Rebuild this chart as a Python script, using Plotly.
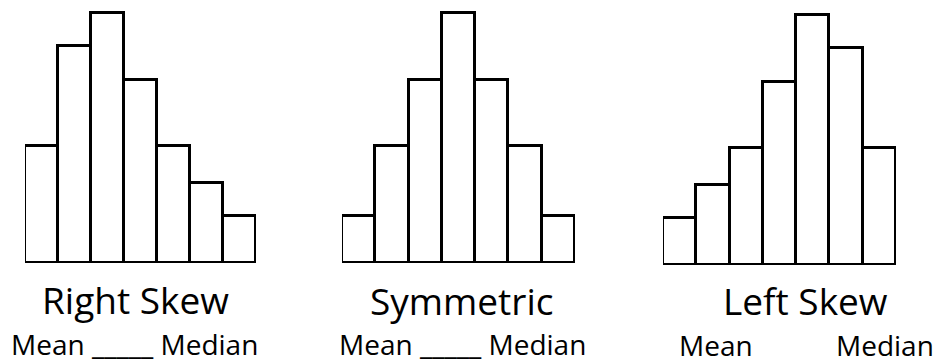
import plotly.graph_objects as go

W, H = 935, 360

bins = [1, 2, 3, 4, 5, 6, 7]
right_skew = [3.5, 6.5, 7.5, 5.5, 3.5, 2.4, 1.4]
symmetric = [1.4, 3.5, 5.5, 7.5, 5.5, 3.5, 1.4]
left_skew = [1.4, 2.4, 3.5, 5.5, 7.5, 6.5, 3.5]

titles = ["Right Skew", "Symmetric", "Left Skew"]
subtitles = ["Mean _____ Median", "Mean _____ Median"]

series = [right_skew, symmetric, left_skew]
# pixel layout per panel: (x_left, x_right, baseline_y)
panels = [(25, 256, 263), (342, 575, 263), (663, 896, 265)]
unit_px = 250 / 7.5
FONT = "Open Sans"

fig = go.Figure()
layout = dict(
    width=W, height=H,
    margin=dict(l=0, r=0, t=0, b=0),
    paper_bgcolor="white", plot_bgcolor="white",
    showlegend=False, bargap=0,
    font=dict(family=FONT, color="black"),
)
for i, (vals, (xl, xr, base)) in enumerate(zip(series, panels)):
    sfx = "" if i == 0 else str(i + 1)
    fig.add_trace(go.Bar(
        x=bins, y=vals, width=1,
        marker=dict(color="white", line=dict(color="black", width=3)),
        xaxis="x" + sfx, yaxis="y" + sfx, hoverinfo="skip",
    ))
    ytop_units = base / unit_px
    layout["xaxis" + sfx] = dict(domain=[xl / W, xr / W], range=[0.5, 7.5],
                                 visible=False, anchor="y" + sfx, fixedrange=True)
    layout["yaxis" + sfx] = dict(domain=[1 - base / H, 1], range=[0, ytop_units],
                                 visible=False, anchor="x" + sfx, fixedrange=True)

fig.update_layout(**layout)

def ann(text, xc, yc, size, xanchor="center"):
    fig.add_annotation(text=text, x=xc / W, y=1 - yc / H, xref="paper", yref="paper",
                       xanchor=xanchor, yanchor="middle", showarrow=False,
                       font=dict(size=size, family=FONT, color="black"))

ann(titles[0], 135, 299, 37)
ann(subtitles[0], 134.5, 344, 28)
ann(titles[1], 461.5, 300, 37)
ann(subtitles[1], 462, 344, 28)
ann(titles[2], 805, 300, 37)
ann("Mean", 716, 345, 28)
ann("Median", 834, 345, 28, xanchor="left")

fig.write_html(
    "out.html",
    config={"displayModeBar": False},
    post_script="document.body.style.margin='0';document.body.style.overflow='hidden';",
)
